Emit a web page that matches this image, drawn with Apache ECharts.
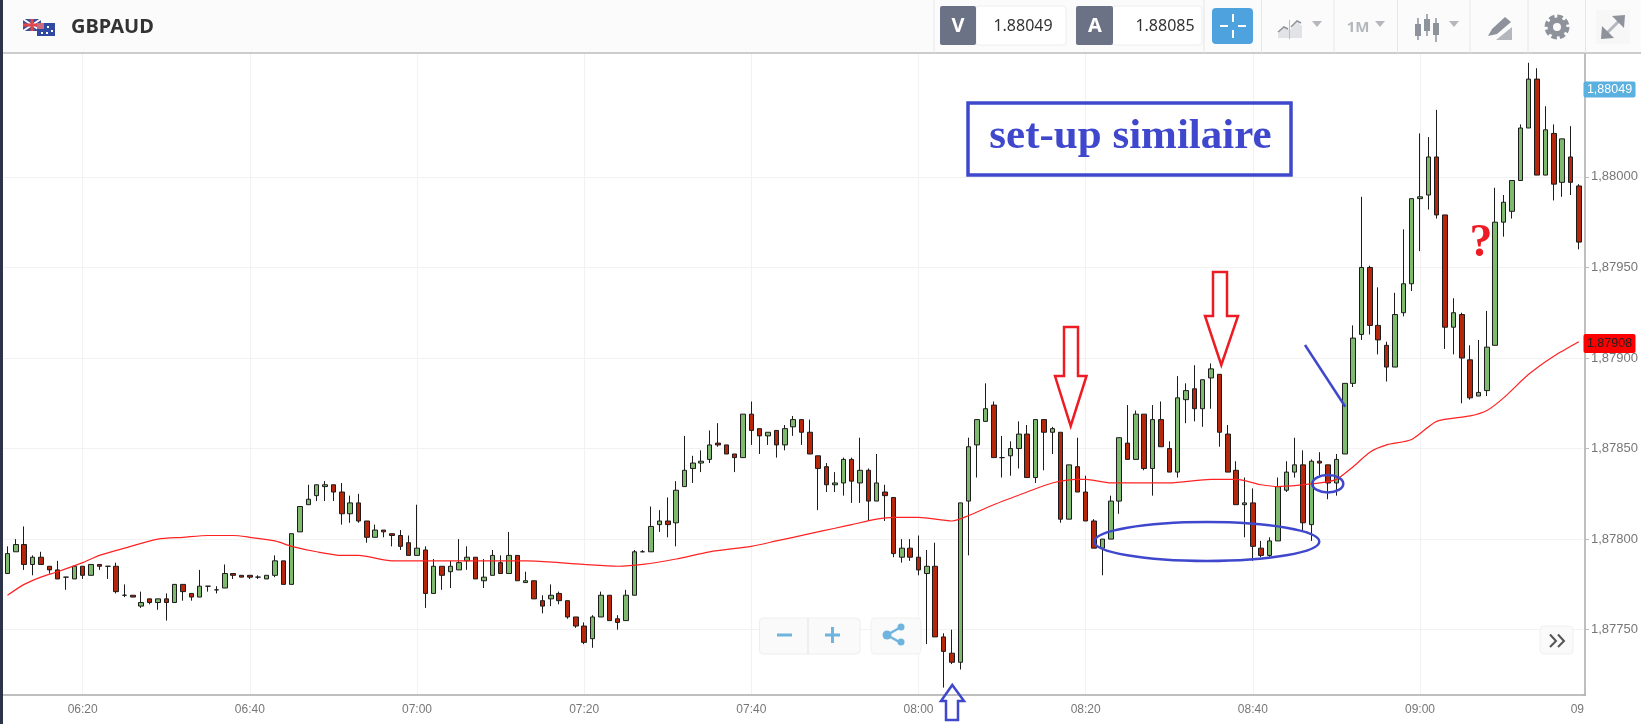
<!DOCTYPE html>
<html><head><meta charset="utf-8">
<style>html,body{margin:0;padding:0;background:#fff}#c{width:1641px;height:724px}</style>
<script src="https://cdn.jsdelivr.net/npm/echarts@6/dist/echarts.min.js"></script>
</head><body><div id="c"></div>
<script>
const opens=[1.87781,1.87793,1.87797,1.87786,1.87790,1.87785,1.87783,1.87779,1.87778,1.87785,
1.87780,1.87786,1.87785,1.87785,1.87769,1.87769,1.87763,1.87767,1.87765,1.87767,
1.87765,1.87775,1.87770,1.87768,1.87774,1.87772,1.87773,1.87781,1.87780,1.87780,
1.87779,1.87778,1.87780,1.87788,1.87775,1.87804,1.87819,1.87824,1.87829,1.87830,
1.87826,1.87814,1.87820,1.87810,1.87801,1.87805,1.87803,1.87802,1.87798,1.87791,
1.87794,1.87770,1.87785,1.87782,1.87783,1.87788,1.87790,1.87777,1.87780,1.87787,
1.87781,1.87791,1.87776,1.87777,1.87766,1.87767,1.87770,1.87766,1.87757,1.87752,
1.87745,1.87757,1.87769,1.87756,1.87755,1.87769,1.87793,1.87793,1.87808,1.87810,
1.87809,1.87829,1.87839,1.87842,1.87844,1.87853,1.87852,1.87847,1.87845,1.87869,
1.87861,1.87857,1.87860,1.87852,1.87862,1.87866,1.87859,1.87846,1.87840,1.87830,
1.87831,1.87844,1.87831,1.87838,1.87821,1.87826,1.87823,1.87790,1.87795,1.87790,
1.87781,1.87785,1.87746,1.87737,1.87732,1.87821,1.87852,1.87865,1.87874,1.87845,
1.87846,1.87850,1.87858,1.87834,1.87866,1.87859,1.87859,1.87811,1.87840,1.87826,
1.87810,1.87795,1.87800,1.87821,1.87853,1.87844,1.87869,1.87839,1.87866,1.87850,
1.87837,1.87877,1.87883,1.87872,1.87889,1.87891,1.87858,1.87838,1.87819,1.87820,
1.87795,1.87791,1.87799,1.87827,1.87837,1.87841,1.87808,1.87843,1.87841,1.87831,
1.87847,1.87886,1.87913,1.87950,1.87918,1.87907,1.87895,1.87925,1.87941,1.87988,
1.87990,1.88011,1.87979,1.87917,1.87924,1.87899,1.87879,1.87882,1.87907,1.87975,
1.87981,1.87998,1.88027,1.88054,1.88001,1.88024,1.87997,1.88011,1.87995];
const closes=[1.87792,1.87797,1.87786,1.87790,1.87786,1.87783,1.87778,1.87779,1.87785,1.87780,
1.87786,1.87785,1.87785,1.87771,1.87769,1.87768,1.87765,1.87765,1.87767,1.87765,
1.87775,1.87771,1.87768,1.87774,1.87774,1.87772,1.87781,1.87780,1.87779,1.87779,
1.87779,1.87780,1.87788,1.87775,1.87803,1.87818,1.87822,1.87830,1.87830,1.87826,
1.87814,1.87820,1.87810,1.87801,1.87805,1.87804,1.87802,1.87796,1.87791,1.87795,
1.87770,1.87785,1.87780,1.87785,1.87787,1.87790,1.87778,1.87779,1.87791,1.87781,
1.87791,1.87777,1.87777,1.87767,1.87763,1.87769,1.87766,1.87757,1.87752,1.87743,
1.87757,1.87769,1.87755,1.87754,1.87769,1.87793,1.87793,1.87807,1.87810,1.87808,
1.87827,1.87838,1.87842,1.87843,1.87852,1.87852,1.87847,1.87845,1.87869,1.87860,
1.87857,1.87859,1.87852,1.87861,1.87866,1.87859,1.87847,1.87839,1.87830,1.87831,
1.87844,1.87832,1.87838,1.87821,1.87831,1.87824,1.87792,1.87795,1.87790,1.87783,
1.87785,1.87746,1.87738,1.87732,1.87820,1.87851,1.87866,1.87872,1.87845,1.87845,
1.87850,1.87858,1.87834,1.87866,1.87859,1.87861,1.87811,1.87841,1.87826,1.87810,
1.87795,1.87800,1.87821,1.87856,1.87844,1.87869,1.87839,1.87866,1.87851,1.87837,
1.87878,1.87882,1.87872,1.87888,1.87894,1.87859,1.87837,1.87819,1.87820,1.87796,
1.87791,1.87799,1.87829,1.87837,1.87841,1.87809,1.87843,1.87842,1.87831,1.87844,
1.87886,1.87911,1.87950,1.87918,1.87910,1.87895,1.87924,1.87941,1.87988,1.87989,
1.88011,1.87979,1.87917,1.87925,1.87900,1.87878,1.87881,1.87906,1.87975,1.87986,
1.87998,1.88027,1.88054,1.88001,1.88026,1.87996,1.88021,1.87997,1.87964];
const lows=[1.87781,1.87793,1.87783,1.87780,1.87786,1.87781,1.87778,1.87772,1.87778,1.87778,
1.87780,1.87783,1.87778,1.87770,1.87768,1.87768,1.87762,1.87764,1.87761,1.87755,
1.87765,1.87766,1.87766,1.87768,1.87771,1.87770,1.87773,1.87778,1.87779,1.87778,
1.87778,1.87778,1.87779,1.87775,1.87775,1.87804,1.87819,1.87821,1.87821,1.87821,
1.87808,1.87809,1.87809,1.87798,1.87801,1.87801,1.87796,1.87794,1.87791,1.87791,
1.87762,1.87770,1.87772,1.87773,1.87783,1.87783,1.87778,1.87773,1.87780,1.87781,
1.87781,1.87777,1.87776,1.87767,1.87759,1.87763,1.87764,1.87756,1.87751,1.87742,
1.87740,1.87757,1.87755,1.87750,1.87755,1.87769,1.87793,1.87793,1.87804,1.87801,
1.87796,1.87829,1.87831,1.87837,1.87842,1.87851,1.87847,1.87837,1.87845,1.87852,
1.87847,1.87852,1.87845,1.87849,1.87857,1.87852,1.87847,1.87816,1.87826,1.87826,
1.87824,1.87820,1.87820,1.87810,1.87821,1.87810,1.87790,1.87787,1.87788,1.87780,
1.87742,1.87746,1.87718,1.87731,1.87728,1.87791,1.87834,1.87865,1.87845,1.87834,
1.87835,1.87839,1.87834,1.87831,1.87838,1.87847,1.87809,1.87811,1.87826,1.87810,
1.87795,1.87780,1.87800,1.87814,1.87844,1.87844,1.87838,1.87824,1.87851,1.87837,
1.87834,1.87864,1.87865,1.87862,1.87872,1.87851,1.87837,1.87819,1.87801,1.87788,
1.87790,1.87790,1.87799,1.87826,1.87834,1.87804,1.87799,1.87835,1.87822,1.87824,
1.87847,1.87884,1.87910,1.87913,1.87902,1.87887,1.87895,1.87923,1.87937,1.87959,
1.87982,1.87977,1.87905,1.87902,1.87875,1.87877,1.87879,1.87879,1.87907,1.87967,
1.87977,1.87998,1.88027,1.88001,1.88001,1.87987,1.87989,1.87990,1.87960];
const highs=[1.87796,1.87800,1.87807,1.87791,1.87793,1.87785,1.87788,1.87779,1.87785,1.87785,
1.87786,1.87786,1.87785,1.87787,1.87775,1.87769,1.87771,1.87767,1.87767,1.87770,
1.87775,1.87775,1.87770,1.87783,1.87774,1.87774,1.87786,1.87781,1.87780,1.87780,
1.87780,1.87780,1.87791,1.87788,1.87803,1.87818,1.87830,1.87830,1.87832,1.87830,
1.87831,1.87824,1.87825,1.87810,1.87808,1.87805,1.87803,1.87805,1.87802,1.87819,
1.87796,1.87789,1.87785,1.87788,1.87800,1.87796,1.87790,1.87789,1.87794,1.87791,
1.87804,1.87791,1.87782,1.87777,1.87769,1.87775,1.87771,1.87766,1.87757,1.87754,
1.87758,1.87771,1.87769,1.87758,1.87772,1.87794,1.87794,1.87818,1.87816,1.87823,
1.87832,1.87857,1.87846,1.87849,1.87860,1.87864,1.87852,1.87847,1.87869,1.87876,
1.87861,1.87859,1.87860,1.87863,1.87868,1.87866,1.87866,1.87846,1.87842,1.87837,
1.87845,1.87845,1.87856,1.87839,1.87847,1.87830,1.87823,1.87800,1.87800,1.87802,
1.87794,1.87798,1.87748,1.87750,1.87820,1.87856,1.87866,1.87886,1.87876,1.87857,
1.87854,1.87865,1.87863,1.87866,1.87866,1.87862,1.87859,1.87841,1.87856,1.87835,
1.87811,1.87800,1.87824,1.87856,1.87874,1.87871,1.87869,1.87874,1.87876,1.87854,
1.87890,1.87886,1.87896,1.87888,1.87897,1.87891,1.87863,1.87843,1.87834,1.87828,
1.87799,1.87801,1.87834,1.87843,1.87856,1.87849,1.87844,1.87848,1.87841,1.87847,
1.87886,1.87918,1.87989,1.87951,1.87939,1.87909,1.87936,1.87971,1.87988,1.88024,
1.88022,1.88037,1.87979,1.87933,1.87925,1.87907,1.87910,1.87926,1.87994,1.87990,
1.87998,1.88029,1.88063,1.88060,1.88039,1.88029,1.88021,1.88028,1.87996];
const maTimes=['06:11','06:13','06:15','06:17','06:20','06:22','06:25','06:29','06:32','06:35',
'06:38','06:40','06:43','06:45','06:48','06:51','06:53','06:57','07:00','07:04',
'07:09','07:13','07:17','07:20','07:24','07:27','07:31','07:35','07:40','07:43',
'07:47','07:50','07:52','07:55','07:57','08:00','08:04','08:06','08:09','08:13',
'08:16','08:19','08:20','08:23','08:26','08:30','08:35','08:38','08:41','08:43',
'08:46','08:48','08:50','08:52','08:54','08:56','08:59','09:02','09:06','09:08',
'09:10','09:13','09:16','09:19'];
const maValues=[1.87769,1.87775,1.87779,1.87782,1.87787,1.87791,1.87795,1.87800,1.87801,1.87802,
1.87802,1.87801,1.87799,1.87796,1.87793,1.87791,1.87791,1.87788,1.87788,1.87788,
1.87788,1.87788,1.87787,1.87786,1.87785,1.87786,1.87789,1.87793,1.87796,1.87799,
1.87803,1.87806,1.87808,1.87811,1.87812,1.87812,1.87810,1.87813,1.87819,1.87826,
1.87831,1.87833,1.87833,1.87831,1.87831,1.87831,1.87833,1.87833,1.87830,1.87829,
1.87830,1.87831,1.87833,1.87840,1.87848,1.87852,1.87855,1.87865,1.87868,1.87871,
1.87878,1.87891,1.87901,1.87909];
const yTicks=[1.8775,1.878,1.8785,1.879,1.8795,1.88];
const startMinute=6*60+11;
const categories=opens.map((_,i)=>{const m=startMinute+i;return String(Math.floor(m/60)).padStart(2,'0')+':'+String(m%60).padStart(2,'0');});
const every20=(i,v)=>Number(v.slice(3))%20===0;
const fmt=v=>v.toFixed(5).replace('.',',');

const BLUE='#3f48cc',RED='#ed1c24',ICON='#8d929b',LIGHT='#b4b7bc',BTN='#6fb4df';
const Z={z:100};
const rect=(x,y,w,h,fill,extra)=>Object.assign({type:'rect',...Z,shape:Object.assign({x,y,width:w,height:h},extra&&extra.r?{r:extra.r}:{}),style:{fill,stroke:extra&&extra.stroke||null,lineWidth:1}});
const line=(x1,y1,x2,y2,stroke,w)=>({type:'line',...Z,shape:{x1,y1,x2,y2},style:{stroke,lineWidth:w||1}});
const txt=(x,y,t,font,fill,align)=>({type:'text',...Z,z:101,x,y,style:{text:t,font,fill,align:align||'center',verticalAlign:'middle'}});
const poly=(pts,fill,stroke,w)=>({type:'polygon',...Z,shape:{points:pts},style:{fill:fill||'none',stroke:stroke||null,lineWidth:w||1,lineJoin:'miter'}});
const tri=(cx,cy,c)=>poly([[cx-5,cy-3],[cx+5,cy-3],[cx,cy+3]],c||LIGHT);
const pl=(pts,stroke,w)=>({type:'polyline',...Z,shape:{points:pts},style:{stroke,lineWidth:w,fill:'none'}});

const header=[
 rect(0,0,1641,53,'#fbfbfb'),
 line(0,53,1641,53,'#bdbdbd',1.5),
 rect(0,0,3,724,'#2e3448'),
 rect(23,19,18,12,'#3d4f97'),
 pl([[23,19],[41,31]],'#fff',2),pl([[41,19],[23,31]],'#fff',2),
 pl([[32,19],[32,31]],'#e0474c',3),pl([[23,25],[41,25]],'#e0474c',3),
 rect(37,23,18,13,'#2f4aa0'),
 rect(37,23,7,6,'#c86b80'),
 rect(47,26,2,2,'#fff'),rect(51,30,2,2,'#fff'),rect(46,32,2,2,'#fff'),rect(41,32,2,2,'#fff'),
 txt(71,27,'GBPAUD','bold 20px "Noto Sans"','#333','left'),
];
[934,1204,1261.5,1334,1397.5,1470,1528,1585.5].forEach(x=>header.push(line(x,0,x,53,'#e6e6e6',1)));
header.push(
 rect(976,6,90,39,'#fff',{stroke:'#eee',r:3}),
 rect(940,6,36,39,'#6c7285',{r:2}),
 txt(958,26,'V','bold 20px "Noto Sans"','#fff'),
 txt(1023,26,'1.88049','16px "Noto Sans"','#333'),
 rect(1112,6,90,39,'#fff',{stroke:'#eee',r:3}),
 rect(1076,6,37,39,'#6c7285',{r:2}),
 txt(1095,26,'A','bold 20px "Noto Sans"','#fff'),
 txt(1165,26,'1.88085','16px "Noto Sans"','#333'),
 rect(1212,8,41,36,'#4ea3df',{r:4}),
 line(1233,14,1233,22,'#fff',2),line(1233,30,1233,38,'#fff',2),line(1220,26,1228,26,'#fff',2),line(1238,26,1246,26,'#fff',2),
 poly([[1278,38],[1278,32],[1284,27],[1290,30],[1297,22],[1302,26],[1302,38]],'#e2e3e6'),
 pl([[1278,32],[1284,27],[1288,29]],ICON,1.5),pl([[1291,27],[1297,21],[1301,23]],ICON,1.5),
 line(1289.5,20,1289.5,39,'#bbb',1),
 tri(1317,24),
 txt(1358,28,'1M','bold 15px "Noto Sans"',LIGHT),
 tri(1380,24),
 line(1418,18,1418,40,ICON,1.5),rect(1415,24,6,12,ICON),
 line(1427,14,1427,36,ICON,1.5),rect(1424,19,6,12,ICON),
 line(1436,18,1436,42,ICON,1.5),rect(1433,23,6,12,ICON),
 tri(1454,24),
 poly([[1488,36],[1492,29],[1505,17],[1511,22],[1497,34]],ICON),
 poly([[1496,40],[1512,40],[1512,27]],LIGHT),
 {type:'circle',...Z,shape:{cx:1557,cy:27,r:10},style:{fill:'none',stroke:ICON,lineWidth:5,lineDash:[5.2,2.65]}},
 {type:'ring',...Z,shape:{cx:1557,cy:27,r:9.5,r0:4},style:{fill:ICON}},
 rect(1596,10,34,34,'#f7f7f7'),
 pl([[1604,36],[1622,18]],LIGHT,3),
 poly([[1612,16],[1625,15],[1624,28]],ICON),
 poly([[1602,26],[1601,39],[1614,38]],ICON)
);
const panels=[
 rect(759.5,618,100.5,36,'#fafafa',{stroke:'#eeeeee',r:4}),
 line(808,618,808,654,'#e4e4e4',1),
 rect(777,633.5,15,3,BTN),
 rect(825,633.5,15,3,BTN),rect(831,627,3,16,BTN),
 rect(871,618,50,36,'#fafafa',{stroke:'#f0f0f0',r:4}),
 pl([[887,635],[901,627]],BTN,2.5),pl([[887,635],[901,643]],BTN,2.5),
 {type:'circle',...Z,shape:{cx:887,cy:635,r:4.5},style:{fill:BTN}},
 {type:'circle',...Z,shape:{cx:901,cy:627,r:3.5},style:{fill:BTN}},
 {type:'circle',...Z,shape:{cx:901,cy:642,r:3.5},style:{fill:BTN}},
 rect(1540,626,33,28,'#fafafa',{stroke:'#f0f0f0',r:4}),
 pl([[1550,634.5],[1556,641],[1550,647]],'#555',2),pl([[1558,634.5],[1564,641],[1558,647]],'#555',2),
];
const notes=[
 rect(968,103,323,72,'none',{stroke:BLUE}),
 txt(1130.5,137,'set-up similaire','bold 43px "Liberation Serif"',BLUE),
 poly([[1064,327],[1078,327],[1078,376],[1086.5,376],[1070.7,426],[1055,376],[1064,376]],null,RED,2.5),
 poly([[1213,272],[1227,272],[1227,316],[1238,316],[1221.3,365],[1205,316],[1213,316]],null,RED,2.5),
 poly([[952.3,685],[964,701],[958,701],[958,720],[946,720],[946,701],[941,701]],null,BLUE,2.5),
 {type:'ellipse',...Z,shape:{cx:1206.8,cy:541.5,rx:112.5,ry:19.5},style:{fill:'none',stroke:BLUE,lineWidth:2.5}},
 {type:'ellipse',...Z,shape:{cx:1327.8,cy:483.7,rx:15.5,ry:8.7},style:{fill:'none',stroke:BLUE,lineWidth:2.5}},
 line(1305,345,1345.3,406.7,BLUE,2.5),
 txt(1481,244,'?','bold 46px "Liberation Serif"',RED),
 rect(1583.5,81.5,52,16,'#5ab0de',{r:2}),
 txt(1609.5,90,'1,88049','12.5px "Liberation Sans"','#fff'),
 rect(1583.5,334,52,19,'#ff0000',{r:2}),
 txt(1609.5,344,'1,87908','12.5px "Liberation Sans"','#222'),
 txt(1584,709.5,'09','12px "Liberation Sans"','#777','right'),
 line(1583,695,1586,695,'#aaa',1.5),
];
notes[0].style.lineWidth=3.5;

const chart=echarts.init(document.getElementById('c'));
chart.setOption({
 animation:false,
 backgroundColor:'#fff',
 grid:{left:3.3,top:53,width:1580,height:642},
 xAxis:{type:'category',data:categories,boundaryGap:true,
  axisLine:{lineStyle:{color:'#aaa',width:1.5}},
  axisTick:{interval:every20,alignWithLabel:true,length:5,lineStyle:{color:'#aaa'}},
  axisLabel:{interval:every20,color:'#777',fontFamily:'Liberation Sans',fontSize:12,margin:9,hideOverlap:false},
  splitLine:{show:true,interval:every20,alignWithLabel:true,lineStyle:{color:'#f2f2f2'}}},
 yAxis:{type:'value',position:'right',offset:2,scale:true,min:1.8771392,max:1.88068415,splitNumber:7,
  axisLine:{show:true,lineStyle:{color:'#aaa',width:1.5}},
  axisTick:{show:true,customValues:yTicks,length:4,lineStyle:{color:'#bbb'}},
  axisLabel:{customValues:yTicks,formatter:fmt,color:'#777',fontFamily:'Liberation Sans',fontSize:13,margin:6},
  splitLine:{show:true,lineStyle:{color:'#f2f2f2'}}},
 series:[
  {type:'candlestick',data:opens.map((o,i)=>[o,closes[i],lows[i],highs[i]]),barWidth:5,
   itemStyle:{color:'#7fb96f',color0:'#b5260a',borderColor:'#1c1c1c',borderColor0:'#1c1c1c',borderColorDoji:'#1c1c1c',borderWidth:1}},
  {type:'line',data:maTimes.map((t,i)=>[t,maValues[i]]),showSymbol:false,symbol:'none',smooth:0.25,lineStyle:{color:'#ff2222',width:1.2},z:5}
 ],
 graphic:{elements:[...header,...panels,...notes]}
});
</script></body></html>
